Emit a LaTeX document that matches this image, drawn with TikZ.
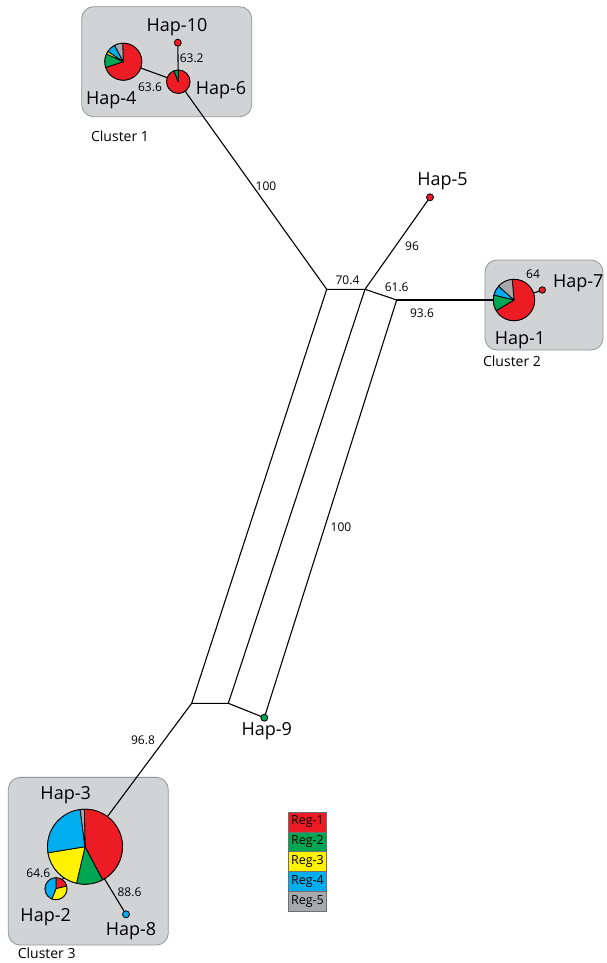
\documentclass[tikz,border=0pt]{standalone}
\usepackage{fontspec}
\setmainfont{Open Sans}
\usetikzlibrary{positioning}
\definecolor{regA}{HTML}{ED1C24}
\definecolor{regB}{HTML}{00A651}
\definecolor{regC}{HTML}{FFF200}
\definecolor{regD}{HTML}{00AEEF}
\definecolor{regE}{HTML}{A7A9AC}
\definecolor{boxfill}{HTML}{D1D3D4}
\definecolor{boxline}{HTML}{939598}
\definecolor{legline}{HTML}{6D6E71}
\tikzset{
  cluster/.style={
    draw=boxline,
    fill=boxfill,
    rounded corners=12pt,
    line width=0.8pt,
    inner sep=0pt,
  },
  hap/.style={
    circle,
    draw,
    line width=0.8pt,
    inner sep=0pt,
    minimum size=#1,
  },
  hapdot/.style={
    hap=7pt,
  },
  link/.style={
    line width=1.1pt,
    line cap=round,
  },
  haplabel/.style={
    font=\fontsize{18}{20}\selectfont,
    anchor=base,
    inner sep=0pt,
  },
  edgelabel/.style={
    font=\fontsize{12}{14}\selectfont,
    inner sep=0pt,
  },
  clusterlabel/.style={
    font=\fontsize{14}{16}\selectfont,
    anchor=base,
    inner sep=0pt,
  },
  legendbox/.style={
    draw=legline,
    line width=0.6pt,
    minimum width=38.4pt,
    minimum height=19.8pt,
    inner sep=0pt,
    outer sep=0pt,
    font=\fontsize{12.5}{14}\selectfont,
  },
  slice/.style={
    draw=black,
    line width=0.8pt,
    line join=round,
  }
}
% one wedge of a pie: start angle, end angle, radius, colour
\newcommand{\hapslice}[4]{%
  \filldraw[slice, fill=#4] (0,0) -- (#1:#3)
    arc[start angle=#1, end angle=#2, radius=#3] -- cycle;}

\begin{document}
\begin{tikzpicture}[x=1pt, y=-1pt]
    \fill[white] (0,0) rectangle (607,963);
    \useasboundingbox (0,0) rectangle (607,963);

    % Cluster boxes
    \node[cluster, minimum width=170pt, minimum height=110pt] (box1) at (166.7,61.7) {};
    \node[cluster, minimum width=118pt, minimum height=90pt] (box2) at (544,305) {};
    \node[cluster, minimum width=160pt, minimum height=167.7pt] (box3) at (88.3,861.2) {};
    \node[clusterlabel] (clu1) at (120,141.7) {Cluster 1};
    \node[clusterlabel] (clu2) at (512,366.7) {Cluster 2};
    \node[clusterlabel] (clu3) at (46.7,958.3) {Cluster 3};

    % Haplotypes
    \node[hap=37pt] (hap4) at (123.3,61.7) {};
    \node[hap=23.4pt] (hap6) at (178.3,81.7) {};
    \node[hapdot, fill=regA] (hap10) at (177.8,42.7) {};
    \node[hapdot, fill=regA] (hap5) at (430,197.3) {};
    \node[hap=41.4pt] (hap1) at (514,300) {};
    \node[hap=6.5pt, fill=regA] (hap7) at (542.3,290) {};
    \node[hapdot, fill=regB] (hap9) at (264.3,717.7) {};
    \node[hap=75pt] (hap3) at (85,846.7) {};
    \node[hap=22pt] (hap2) at (56,888.7) {};
    \node[hapdot, fill=regD] (hap8) at (126,914.3) {};

    % Split network
    \coordinate (j1) at (326.7,289.3);
    \coordinate (j2) at (365,289.3);
    \coordinate (j3) at (396.7,300);
    \coordinate (k1) at (191.7,703.3);
    \coordinate (k2) at (228.3,703.3);

    \draw[link] (hap10) -- (hap6);
    \draw[link] (hap4) -- (hap6);
    \draw[link] (hap6) -- (j1);
    \draw[link] (j1) -- (j2) -- (j3);
    \draw[link] (j2) -- (hap5);
    \draw[link] (j3) -- (hap1);
    \draw[link] (hap1) -- (hap7);
    \draw[link] (j1) -- (k1);
    \draw[link] (j2) -- (k2);
    \draw[link] (j3) -- (hap9);
    \draw[link] (k1) -- (k2) -- (hap9);
    \draw[link] (k1) -- (hap3);
    \draw[link] (hap3) -- (hap2);
    \draw[link] (hap3) -- (hap8);

    % Pies
    \begin{scope}[shift={(hap4.center)}, yscale=-1]
      \hapslice{92}{-162}{18.5}{regA}
      \hapslice{198}{155}{18.5}{regB}
      \hapslice{155}{146}{18.5}{regC}
      \hapslice{146}{118}{18.5}{regD}
      \hapslice{118}{92}{18.5}{regE}
    \end{scope}
    \begin{scope}[shift={(hap6.center)}, yscale=-1]
      \hapslice{90}{-248}{11.7}{regA}
      \hapslice{112}{90}{11.7}{regB}
    \end{scope}
    \begin{scope}[shift={(hap1.center)}, yscale=-1]
      \hapslice{95}{-149}{20.7}{regA}
      \hapslice{211}{166}{20.7}{regB}
      \hapslice{166}{138}{20.7}{regD}
      \hapslice{138}{95}{20.7}{regE}
    \end{scope}
    \begin{scope}[shift={(hap3.center)}, yscale=-1]
      \hapslice{91}{-62}{37.5}{regA}
      \hapslice{-62}{-103}{37.5}{regB}
      \hapslice{-103}{-170.7}{37.5}{regC}
      \hapslice{189.3}{97.4}{37.5}{regD}
      \hapslice{97.4}{91}{37.5}{regE}
    \end{scope}
    \begin{scope}[shift={(hap2.center)}, yscale=-1]
      \hapslice{90}{14}{11}{regA}
      \hapslice{14}{-112}{11}{regC}
      \hapslice{248}{90}{11}{regD}
    \end{scope}

    % Haplotype names
    \node[haplabel] (name10) at (177,31.7) {Hap-10};
    \node[haplabel] (name6) at (221,95) {Hap-6};
    \node[haplabel] (name4) at (111.3,104.3) {Hap-4};
    \node[haplabel] (name5) at (442.5,185) {Hap-5};
    \node[haplabel] (name7) at (578.3,287.3) {Hap-7};
    \node[haplabel] (name1) at (520,344.3) {Hap-1};
    \node[haplabel] (name9) at (266.7,735) {Hap-9};
    \node[haplabel] (name3) at (65.7,799.3) {Hap-3};
    \node[haplabel] (name2) at (45.7,921.7) {Hap-2};
    \node[haplabel] (name8) at (131,935.7) {Hap-8};

    % Support values
    \node[edgelabel] (sup632) at (191.7,58.3) {63.2};
    \node[edgelabel] (sup636) at (150,87.3) {63.6};
    \node[edgelabel] (sup100a) at (266,186) {100};
    \node[edgelabel] (sup704) at (347.5,280) {70.4};
    \node[edgelabel] (sup616) at (396.7,287) {61.6};
    \node[edgelabel] (sup96) at (412,246) {96};
    \node[edgelabel] (sup936) at (422,313) {93.6};
    \node[edgelabel] (sup64) at (533,274) {64};
    \node[edgelabel] (sup100b) at (341,527) {100};
    \node[edgelabel] (sup968) at (143,740) {96.8};
    \node[edgelabel] (sup646) at (38.3,873.5) {64.6};
    \node[edgelabel] (sup886) at (129.5,892.5) {88.6};

    % Legend
    \node[legendbox, fill=regA] (leg1) at (307.5,821.9) {Reg-1};
    \node[legendbox, fill=regB, below=0pt of leg1] (leg2) {Reg-2};
    \node[legendbox, fill=regC, below=0pt of leg2] (leg3) {Reg-3};
    \node[legendbox, fill=regD, below=0pt of leg3] (leg4) {Reg-4};
    \node[legendbox, fill=regE, below=0pt of leg4] (leg5) {Reg-5};
\end{tikzpicture}
\end{document}
